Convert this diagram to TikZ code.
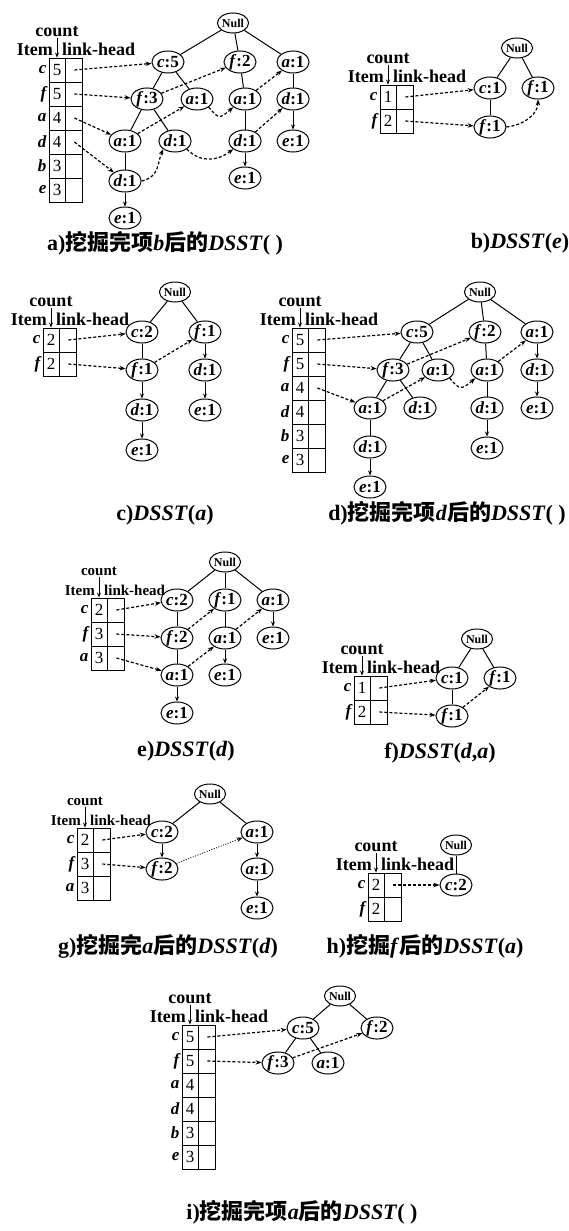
\documentclass[tikz,border=0pt]{standalone}
\usepackage{fontspec}
\setmainfont{Liberation Serif}
\newfontfamily\cjk{Noto Sans CJK SC}
\usetikzlibrary{arrows.meta, calc, shapes.geometric}
\tikzset{
  tnode/.style={draw, ellipse, line width=1pt, minimum width=32pt, minimum height=22pt, inner sep=0pt, font=\fontsize{17}{17}\selectfont\bfseries},
  nullnode/.style={draw, ellipse, line width=1pt, minimum width=30pt, minimum height=20pt, inner sep=0pt, font=\fontsize{12}{12}\selectfont\bfseries},
  cntcell/.style={draw, line width=0.9pt, minimum width=16pt, minimum height=24pt, inner sep=0pt, font=\fontsize{17}{17}\selectfont},
  lnkcell/.style={draw, line width=0.9pt, minimum width=17pt, minimum height=24pt, inner sep=0pt, anchor=west},
  itemlbl/.style={anchor=east, inner sep=1pt, xshift=-1pt, font=\fontsize{17}{17}\selectfont\bfseries\itshape},
  hdr/.style={inner sep=1pt, font=\fontsize{#1}{#1}\selectfont\bfseries},
  hdr/.default=18,
  tedge/.style={line width=1pt},
  tarr/.style={line width=1pt, -{Stealth[length=5pt, width=4pt]}},
  lnk/.style={line width=1.2pt, dash pattern=on 3pt off 2pt, -{Stealth[length=6pt, width=4.5pt]}},
  captxt/.style={inner sep=0pt, font=\fontsize{22}{22}\selectfont\bfseries},
}
% item table: prefix, x of count column, y of first row, rows item/count
\newcommand{\itemtable}[4]{%
  \foreach \itm/\cnt [count=\k from 0] in {#4} {
    \node[cntcell] (#1\itm n) at (#2, #3+24*\k) {\cnt};
    \node[lnkcell] (#1\itm l) at (#1\itm n.east) {};
    \node[itemlbl] at (#1\itm n.west) {\itm};
  }}
% header above the table: count, Item, link-head (optional font size)
\newcommand{\tablehead}[2][18]{%
  \node[hdr=#1] (#2count) at ($(#2cn.north)+(0,-26)$) {count};
  \node[hdr=#1, anchor=south east] (#2item) at ($(#2cn.north)+(-3,-1)$) {Item};
  \node[hdr=#1, anchor=south west] (#2head) at ($(#2cn.north)+(4,-1)$) {link-head};
  \draw[tarr] (#2count.south) -- (#2cn.north);}

\begin{document}
\begin{tikzpicture}[x=1pt, y=-1pt]
\useasboundingbox (0,0) rectangle (568,1231);

% a) after mining item b
\itemtable{a}{57}{70}{c/5, f/5, a/4, d/4, b/3, e/3}
\tablehead{a}
\node[nullnode] (aN) at (233,23) {Null};
\node[tnode] (ac5) at (168,62) {\textit{c}:5};
\node[tnode] (af2) at (240,62) {\textit{f}:2};
\node[tnode] (aa1) at (293,62) {\textit{a}:1};
\node[tnode] (af3) at (147,99) {\textit{f}:3};
\node[tnode] (aa2) at (197,99) {\textit{a}:1};
\node[tnode] (aa3) at (245,99) {\textit{a}:1};
\node[tnode] (ad1) at (293,99) {\textit{d}:1};
\node[tnode] (aa4) at (125,141) {\textit{a}:1};
\node[tnode] (ad2) at (175,141) {\textit{d}:1};
\node[tnode] (ad3) at (245,141) {\textit{d}:1};
\node[tnode] (ae1) at (293,141) {\textit{e}:1};
\node[tnode] (ad4) at (125,181) {\textit{d}:1};
\node[tnode] (ae2) at (245,178) {\textit{e}:1};
\node[tnode] (ae3) at (125,218) {\textit{e}:1};
\foreach \u/\v in {aN/ac5, aN/af2, aN/aa1, ac5/af3, ac5/aa2, af3/aa4, af3/ad2, af2/aa3, aa3/ad3, aa1/ad1, aa4/ad4}
  \draw[tedge] (\u) -- (\v);
\foreach \u/\v in {ad4/ae3, ad3/ae2, ad1/ae1}
  \draw[tarr] (\u) -- (\v);
\draw[lnk] (acl.center) -- (ac5);
\draw[lnk] (afl.center) -- (af3);
\draw[lnk] (aal.center) -- (aa4);
\draw[lnk] (adl.center) -- (ad4);
\draw[lnk] (af3) -- (af2);
\draw[lnk] (aa4) -- (aa2);
\draw[lnk] (aa2.south east) .. controls +(10,12) and +(-14,12) .. (aa3.south west);
\draw[lnk] (aa3) -- (aa1);
\draw[lnk] (ad4.east) .. controls +(18,-4) and +(-6,14) .. (ad2.south west);
\draw[lnk] (ad2.south east) .. controls +(14,14) and +(-16,12) .. (ad3.south west);
\draw[lnk] (ad3) -- (ad1);
\node[captxt] (acap) at (165,243) {a){\cjk 挖掘完项}\textit{b}{\cjk 后的}\textit{DSST}( )};

% b) DSST(e)
\itemtable{b}{388}{97}{c/1, f/2}
\tablehead{b}
\node[nullnode] (bN) at (517,48) {Null};
\node[tnode] (bc1) at (490,88) {\textit{c}:1};
\node[tnode] (bf1) at (538,88) {\textit{f}:1};
\node[tnode] (bf2) at (490,127) {\textit{f}:1};
\foreach \u/\v in {bN/bc1, bN/bf1, bc1/bf2}
  \draw[tedge] (\u) -- (\v);
\draw[lnk] (bcl.center) -- (bc1);
\draw[lnk] (bfl.center) -- (bf2);
\draw[lnk] (bf2.east) .. controls +(18,-2) and +(0,14) .. (bf1.south);
\node[captxt] (bcap) at (520,243) {b)\textit{DSST}(\textit{e})};

% c) DSST(a)
\itemtable{c}{51}{340}{c/2, f/2}
\tablehead{c}
\node[nullnode] (cN) at (175,292) {Null};
\node[tnode] (cc2) at (142,332) {\textit{c}:2};
\node[tnode] (cf1) at (205,332) {\textit{f}:1};
\node[tnode] (cf2) at (142,370) {\textit{f}:1};
\node[tnode] (cd1) at (142,410) {\textit{d}:1};
\node[tnode] (ce1) at (142,450) {\textit{e}:1};
\node[tnode] (cd2) at (205,370) {\textit{d}:1};
\node[tnode] (ce2) at (205,410) {\textit{e}:1};
\foreach \u/\v in {cN/cc2, cN/cf1, cc2/cf2}
  \draw[tedge] (\u) -- (\v);
\foreach \u/\v in {cf2/cd1, cd1/ce1, cf1/cd2, cd2/ce2}
  \draw[tarr] (\u) -- (\v);
\draw[lnk] (ccl.center) -- (cc2);
\draw[lnk] (cfl.center) -- (cf2);
\draw[lnk] (cf2) -- (cf1);
\node[captxt] (ccap) at (165,515) {c)\textit{DSST}(\textit{a})};

% d) after mining item d
\itemtable{d}{300}{340}{c/5, f/5, a/4, d/4, b/3, e/3}
\tablehead{d}
\node[nullnode] (dN) at (480,292) {Null};
\node[tnode] (dc5) at (417,332) {\textit{c}:5};
\node[tnode] (df2) at (485,332) {\textit{f}:2};
\node[tnode] (da1) at (537,332) {\textit{a}:1};
\node[tnode] (df3) at (393,370) {\textit{f}:3};
\node[tnode] (da2) at (438,370) {\textit{a}:1};
\node[tnode] (da3) at (487,370) {\textit{a}:1};
\node[tnode] (dd1) at (537,370) {\textit{d}:1};
\node[tnode] (da4) at (370,408) {\textit{a}:1};
\node[tnode] (dd2) at (420,408) {\textit{d}:1};
\node[tnode] (dd3) at (487,408) {\textit{d}:1};
\node[tnode] (de1) at (537,408) {\textit{e}:1};
\node[tnode] (dd4) at (370,447) {\textit{d}:1};
\node[tnode] (de2) at (487,448) {\textit{e}:1};
\node[tnode] (de3) at (370,487) {\textit{e}:1};
\foreach \u/\v in {dN/dc5, dN/df2, dN/da1, dc5/df3, dc5/da2, df3/da4, df3/dd2, df2/da3, da3/dd3, da4/dd4}
  \draw[tedge] (\u) -- (\v);
\foreach \u/\v in {dd4/de3, dd3/de2, da1/dd1, dd1/de1}
  \draw[tarr] (\u) -- (\v);
\draw[lnk] (dcl.center) -- (dc5);
\draw[lnk] (dfl.center) -- (df3);
\draw[lnk] (dal.center) -- (da4);
\draw[lnk] (df3) -- (df2);
\draw[lnk] (da4) -- (da2);
\draw[lnk] (da2.south east) .. controls +(10,12) and +(-14,12) .. (da3.south west);
\draw[lnk] (da3) -- (da1);
\node[captxt] (dcap) at (447,513) {d){\cjk 挖掘完项}\textit{d}{\cjk 后的}\textit{DSST}( )};

% e) DSST(d)
\itemtable{e}{99}{610}{c/2, f/3, a/3}
\tablehead[15]{e}
\node[nullnode] (eN) at (225,562) {Null};
\node[tnode] (ec2) at (177,600) {\textit{c}:2};
\node[tnode] (ef1) at (225,600) {\textit{f}:1};
\node[tnode] (ea1) at (273,600) {\textit{a}:1};
\node[tnode] (ef2) at (177,638) {\textit{f}:2};
\node[tnode] (ea2) at (225,638) {\textit{a}:1};
\node[tnode] (ee1) at (273,638) {\textit{e}:1};
\node[tnode] (ea3) at (177,675) {\textit{a}:1};
\node[tnode] (ee2) at (225,675) {\textit{e}:1};
\node[tnode] (ee3) at (177,713) {\textit{e}:1};
\foreach \u/\v in {eN/ec2, eN/ef1, eN/ea1, ec2/ef2, ef2/ea3, ef1/ea2}
  \draw[tedge] (\u) -- (\v);
\foreach \u/\v in {ea3/ee3, ea2/ee2, ea1/ee1}
  \draw[tarr] (\u) -- (\v);
\draw[lnk] (ecl.center) -- (ec2);
\draw[lnk] (efl.center) -- (ef2);
\draw[lnk] (eal.center) -- (ea3);
\draw[lnk] (ef2) -- (ef1);
\draw[lnk] (ea3) -- (ea2);
\draw[lnk] (ea2) -- (ea1);
\node[captxt] (ecap) at (186,751) {e)\textit{DSST}(\textit{d})};

% f) DSST(d,a)
\itemtable{f}{362}{688}{c/1, f/2}
\tablehead{f}
\node[nullnode] (fN) at (477,639) {Null};
\node[tnode] (fc1) at (452,678) {\textit{c}:1};
\node[tnode] (ff1) at (500,678) {\textit{f}:1};
\node[tnode] (ff2) at (452,716) {\textit{f}:1};
\foreach \u/\v in {fN/fc1, fN/ff1, fc1/ff2}
  \draw[tedge] (\u) -- (\v);
\draw[lnk] (fcl.center) -- (fc1);
\draw[lnk] (ffl.center) -- (ff2);
\draw[lnk] (ff2) -- (ff1);
\node[captxt] (fcap) at (440,753) {f)\textit{DSST}(\textit{d},\textit{a})};

% g) DSST(d) after mining a
\itemtable{g}{85}{840}{c/2, f/3, a/3}
\tablehead[15]{g}
\node[nullnode] (gN) at (210,794) {Null};
\node[tnode] (gc2) at (162,832) {\textit{c}:2};
\node[tnode] (ga1) at (257,832) {\textit{a}:1};
\node[tnode] (gf2) at (162,869) {\textit{f}:2};
\node[tnode] (ga2) at (257,869) {\textit{a}:1};
\node[tnode] (ge1) at (257,908) {\textit{e}:1};
\foreach \u/\v in {gN/gc2, gN/ga1}
  \draw[tedge] (\u) -- (\v);
\foreach \u/\v in {gc2/gf2, ga1/ga2, ga2/ge1}
  \draw[tarr] (\u) -- (\v);
\draw[lnk] (gcl.center) -- (gc2);
\draw[lnk] (gfl.center) -- (gf2);
\draw[lnk, line width=0.8pt, dash pattern=on 1pt off 1.5pt] (gf2) -- (ga1);
\node[captxt] (gcap) at (168,946) {g){\cjk 挖掘完}\textit{a}{\cjk 后的}\textit{DSST}(\textit{d})};

% h) DSST(a) after mining f
\itemtable{h}{376}{885}{c/2, f/2}
\tablehead{h}
\node[nullnode] (hN) at (456,845) {Null};
\node[tnode] (hc2) at (456,885) {\textit{c}:2};
\draw[tedge] (hN) -- (hc2);
\draw[lnk] (hcl.center) -- (hc2);
\node[captxt] (hcap) at (425,946) {h){\cjk 挖掘}\textit{f}{\cjk 后的}\textit{DSST}(\textit{a})};

% i) after mining item a
\itemtable{i}{190}{1037}{c/5, f/5, a/4, d/4, b/3, e/3}
\tablehead{i}
\node[nullnode] (iN) at (340,996) {Null};
\node[tnode] (ic5) at (303,1028) {\textit{c}:5};
\node[tnode] (if2) at (377,1028) {\textit{f}:2};
\node[tnode] (if3) at (278,1063) {\textit{f}:3};
\node[tnode] (ia1) at (328,1063) {\textit{a}:1};
\foreach \u/\v in {iN/ic5, iN/if2, ic5/if3, ic5/ia1}
  \draw[tedge] (\u) -- (\v);
\draw[lnk] (icl.center) -- (ic5);
\draw[lnk] (ifl.center) -- (if3);
\draw[lnk] (if3) -- (if2);
\node[captxt] (icap) at (302,1212) {i){\cjk 挖掘完项}\textit{a}{\cjk 后的}\textit{DSST}( )};
\end{tikzpicture}
\end{document}
